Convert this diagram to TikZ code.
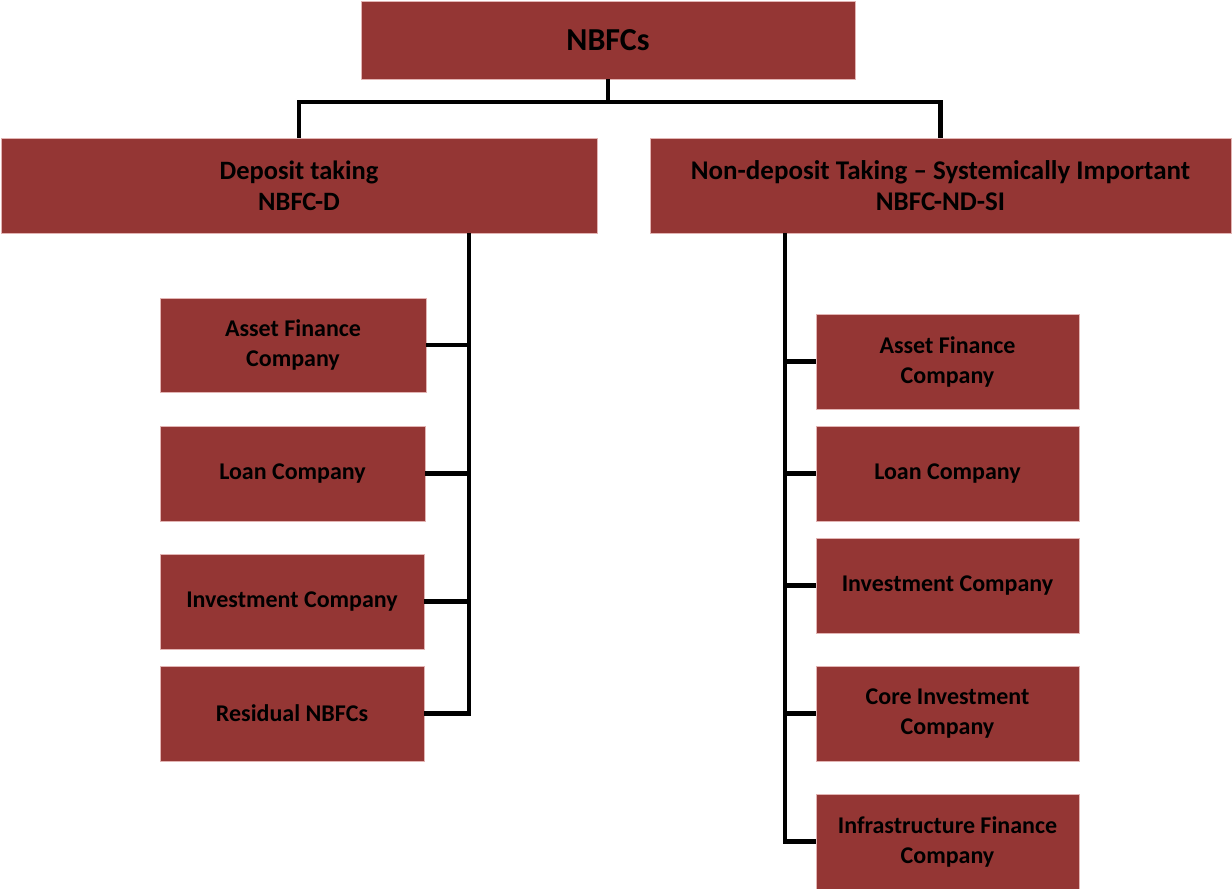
\documentclass[tikz,border=0pt]{standalone}
\usepackage{fontspec}
\setmainfont{Carlito}
\definecolor{boxred}{HTML}{943634}
\definecolor{boxedge}{HTML}{E2B4B3}
\begin{document}
\begin{tikzpicture}[x=1pt,y=-1pt,
  box/.style={fill=boxred, draw=boxedge, line width=0.8pt, align=center,
    font=\bfseries\fontsize{24}{30}\selectfont, text=black, inner sep=0pt},
  link/.style={line width=4.8pt, draw=black}]
\useasboundingbox (0,0) rectangle (1232,889);

% root
\node[box, minimum width=494pt, minimum height=78pt,
  font=\bfseries\fontsize{32}{36}\selectfont] (top) at (608,40) {NBFCs};

% second level
\node[box, minimum width=596pt, minimum height=95pt,
  font=\bfseries\fontsize{26.5}{31}\selectfont] (dep) at (299,185.5)
  {Deposit taking\\NBFC-D};
\node[box, minimum width=581pt, minimum height=95pt,
  font=\bfseries\fontsize{27}{31}\selectfont] (nd) at (940.5,185.5)
  {Non-deposit Taking -- Systemically Important\\NBFC-ND-SI};

% deposit-taking branch
\node[box, minimum width=266pt, minimum height=94pt] (L1) at (293,345) {Asset Finance\\Company};
\node[box, minimum width=265pt, minimum height=95pt] (L2) at (292.5,473.5) {Loan Company};
\node[box, minimum width=264pt, minimum height=95pt] (L3) at (292,601.5) {Investment Company};
\node[box, minimum width=264pt, minimum height=95pt] (L4) at (292,713.5) {Residual NBFCs};

% non-deposit-taking branch
\node[box, minimum width=263pt, minimum height=95pt] (R1) at (947.5,361.5) {Asset Finance\\Company};
\node[box, minimum width=263pt, minimum height=95pt] (R2) at (947.5,473.5) {Loan Company};
\node[box, minimum width=263pt, minimum height=95pt] (R3) at (947.5,585.5) {Investment Company};
\node[box, minimum width=263pt, minimum height=95pt] (R4) at (947.5,713.5) {Core Investment\\Company};
\node[box, minimum width=263pt, minimum height=95pt] (R5) at (947.5,841.5) {Infrastructure Finance\\Company};

% connectors
\coordinate (j) at (608,102);
\coordinate (lbus) at (469,0);
\coordinate (rbus) at (785,0);
\draw[link] (top.south) -- (j);
\draw[link] (dep.north) |- (j) -| (nd.north);

\draw[link] (dep.south -| lbus) |- (L4.east);
\draw[link] (L1.east) -- (L1.east -| lbus);
\draw[link] (L2.east) -- (L2.east -| lbus);
\draw[link] (L3.east) -- (L3.east -| lbus);

\draw[link] (nd.south -| rbus) |- (R5.west);
\draw[link] (R1.west) -- (R1.west -| rbus);
\draw[link] (R2.west) -- (R2.west -| rbus);
\draw[link] (R3.west) -- (R3.west -| rbus);
\draw[link] (R4.west) -- (R4.west -| rbus);
\end{tikzpicture}
\end{document}
